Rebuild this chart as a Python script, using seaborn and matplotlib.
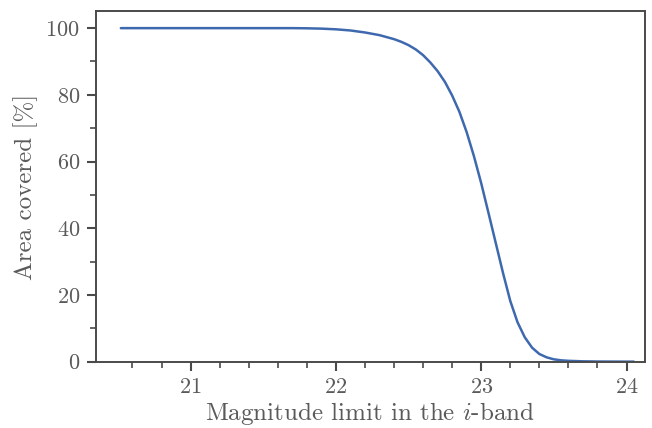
import numpy as np
import pandas as pd
import matplotlib
matplotlib.use("Agg")
import matplotlib.pyplot as plt
from matplotlib.ticker import MultipleLocator, FixedLocator
import seaborn as sns

# Data
mag_limit = [20.52, 21.0, 21.5, 21.7, 21.8, 21.9, 22.0, 22.1, 22.2, 22.3, 22.4,
             22.45, 22.5, 22.55, 22.6, 22.65, 22.7, 22.75, 22.8, 22.85, 22.9,
             22.95, 23.0, 23.05, 23.1, 23.15, 23.2, 23.25, 23.3, 23.35, 23.4,
             23.45, 23.5, 23.55, 23.6, 23.7, 23.8, 23.95, 24.05]
area_covered = [100, 100, 100, 100, 99.95, 99.85, 99.65, 99.3, 98.7, 97.9, 96.7,
                95.9, 94.9, 93.6, 91.9, 89.7, 87.1, 83.9, 79.8, 74.9, 68.8,
                61.6, 53.5, 44.6, 35.6, 26.6, 18.2, 11.8, 7.3, 4.2, 2.3,
                1.3, 0.7, 0.4, 0.25, 0.1, 0.04, 0.01, 0.0]

x_minor_ticks = [20.6, 20.8, 21.2, 21.4, 21.6, 21.8, 22.2, 22.4, 22.6, 22.8,
                 23.2, 23.4, 23.6, 23.8]

xlabel = "Magnitude limit in the $i$-band"
ylabel = "Area covered [%]"

sns.set_theme(style="ticks")
plt.rcParams["font.family"] = ["cmr10", "DejaVu Serif"]
plt.rcParams["mathtext.fontset"] = "cm"
plt.rcParams["axes.formatter.use_mathtext"] = True
plt.rcParams["axes.unicode_minus"] = False

text_c = "#5a5a5a"
spine_c = "#4a4a4a"

df = pd.DataFrame({"mag": mag_limit, "area": area_covered})

fig, ax = plt.subplots(figsize=(6.52, 4.28), dpi=100)
fig.subplots_adjust(left=0.147, right=0.989, top=0.974, bottom=0.155)

sns.lineplot(data=df, x="mag", y="area", ax=ax, color="#3f69ae", linewidth=1.8)

ax.set_xlim(20.348, 24.126)
ax.set_ylim(0, 105.1)
ax.xaxis.set_major_locator(MultipleLocator(1))
ax.xaxis.set_minor_locator(FixedLocator(x_minor_ticks))
ax.yaxis.set_major_locator(MultipleLocator(20))
ax.yaxis.set_minor_locator(MultipleLocator(10))

ax.set_xlabel(xlabel, fontsize=18, color=text_c, labelpad=2)
ax.set_ylabel(ylabel, fontsize=18, color=text_c, labelpad=5)

ax.tick_params(axis="both", which="major", direction="out", length=6.5, width=1.5,
               color=spine_c, labelsize=16, labelcolor=text_c, pad=5)
ax.tick_params(axis="both", which="minor", direction="out", length=4, width=1.2,
               color=spine_c)
ax.tick_params(top=False, right=False, which="both")
for s in ax.spines.values():
    s.set_color(spine_c)
    s.set_linewidth(1.4)
    s.set_visible(True)

fig.savefig("out.png", dpi=100)
